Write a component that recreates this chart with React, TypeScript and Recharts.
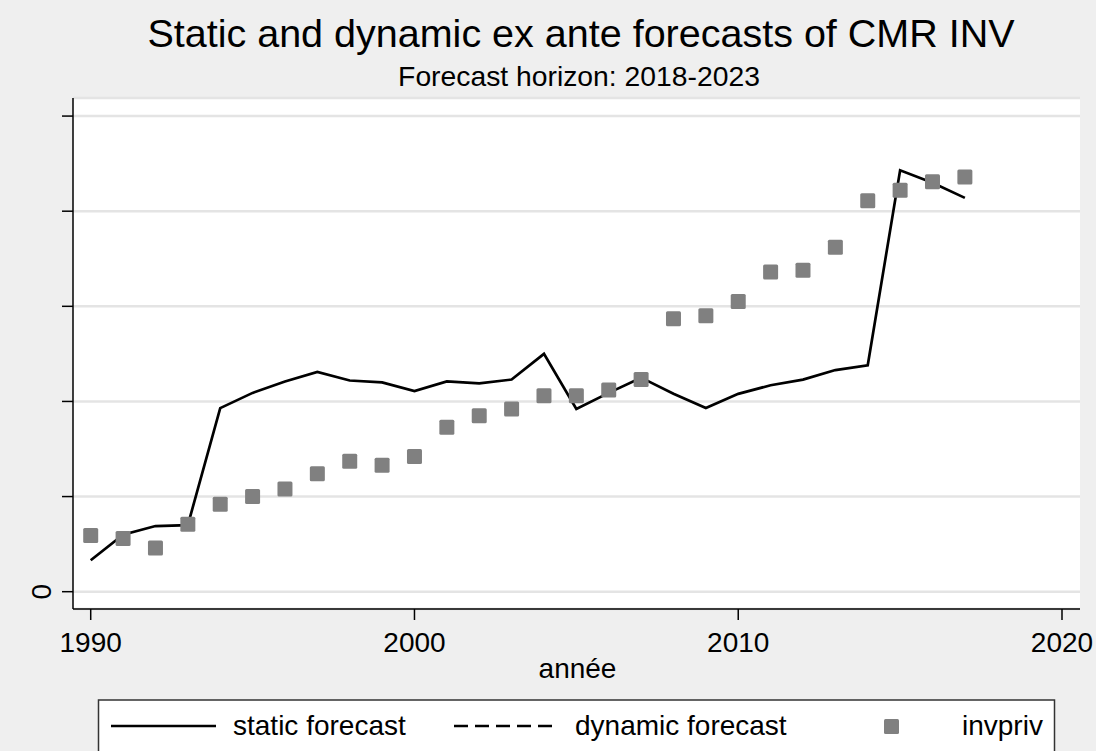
import { ComposedChart, Line, Scatter, XAxis, YAxis, CartesianGrid } from 'recharts';

const years = [
  1990, 1991, 1992, 1993, 1994, 1995, 1996, 1997, 1998, 1999,
  2000, 2001, 2002, 2003, 2004, 2005, 2006, 2007, 2008, 2009,
  2010, 2011, 2012, 2013, 2014, 2015, 2016, 2017
];

const invpriv = [
  0.59, 0.56, 0.46, 0.71, 0.92, 1.0, 1.08, 1.24, 1.37, 1.33,
  1.42, 1.73, 1.85, 1.92, 2.06, 2.06, 2.12, 2.23, 2.87, 2.9,
  3.05, 3.36, 3.38, 3.62, 4.11, 4.22, 4.31, 4.36
];

const staticForecast = [
  0.33, 0.6, 0.69, 0.7, 1.93, 2.09, 2.21, 2.31, 2.22, 2.2,
  2.11, 2.21, 2.19, 2.23, 2.5, 1.92, 2.09, 2.25, 2.08, 1.93,
  2.08, 2.17, 2.23, 2.33, 2.38, 4.43, 4.3, 4.14
];

const xTicks = [1990, 2000, 2010, 2020];
const yTicks = [0, 1, 2, 3, 4, 5];

const rows = years.map((y, i) => ({ year: y, invpriv: invpriv[i], static: staticForecast[i] }));

const FONT = '"Liberation Sans", Arial, Helvetica, sans-serif';

const YTick = ({ x, y, payload }) => {
  if (payload.value !== 0) return null;
  return (
    <text
      x={51}
      y={y}
      transform={`rotate(-90, 51, ${y})`}
      textAnchor="middle"
      fontSize={28}
      fontFamily={FONT}
      fill="#000"
    >
      0
    </text>
  );
};

const Square = (props) => {
  const { cx, cy } = props;
  if (cx == null || cy == null) return null;
  return <rect x={cx - 7.5} y={cy - 7.5} width={15} height={15} rx={1.5} fill="#808080" />;
};

export default function App() {
  return (
    <div
      style={{
        position: 'absolute',
        left: 0,
        top: 0,
        width: 1096,
        height: 751,
        background: '#efefef',
        overflow: 'hidden',
        fontFamily: FONT,
      }}
    >
      <ComposedChart
        width={1096}
        height={751}
        data={rows}
        margin={{ top: 98, right: 16, left: 0, bottom: 82 }}
      >
        <CartesianGrid vertical={false} stroke="#e4e4e4" strokeWidth={2.5} fill="#ffffff" />
        <XAxis
          dataKey="year"
          type="number"
          domain={[1989.453, 2020.556]}
          ticks={xTicks}
          allowDataOverflow
          height={60}
          tickSize={11}
          tickMargin={12}
          stroke="#000"
          strokeWidth={1.5}
          tick={{ fontSize: 28, fill: '#000', fontFamily: FONT }}
        />
        <YAxis
          type="number"
          domain={[-0.182, 5.19]}
          ticks={yTicks}
          allowDataOverflow
          width={73}
          tickSize={11}
          stroke="#000"
          strokeWidth={1.5}
          tick={<YTick />}
        />
        <Line
          dataKey="static"
          type="linear"
          stroke="#000"
          strokeWidth={2.7}
          dot={false}
          isAnimationActive={false}
        />
        <Scatter dataKey="invpriv" shape={<Square />} isAnimationActive={false} />
      </ComposedChart>

      <svg
        width={1096}
        height={751}
        style={{ position: 'absolute', left: 0, top: 0, pointerEvents: 'none' }}
        fontFamily={FONT}
      >
        <text x={581} y={47} textAnchor="middle" fontSize={39.5} fill="#000">
          Static and dynamic ex ante forecasts of CMR INV
        </text>
        <text x={579} y={86} textAnchor="middle" fontSize={28.3} fill="#000">
          Forecast horizon: 2018-2023
        </text>
        <text x={577.5} y={678} textAnchor="middle" fontSize={28} fill="#000">
          année
        </text>

        <rect x={98.5} y={700} width={956} height={70} fill="#fff" stroke="#333" strokeWidth={1.5} />
        <line x1={111} y1={726} x2={216} y2={726} stroke="#000" strokeWidth={2.5} />
        <text x={233} y={735} fontSize={28} fill="#000">static forecast</text>
        <line x1={454} y1={726} x2={553} y2={726} stroke="#000" strokeWidth={2.5} strokeDasharray="14 7" />
        <text x={575} y={735} fontSize={28} fill="#000">dynamic forecast</text>
        <rect x={884} y={719} width={15} height={15} rx={1.5} fill="#808080" />
        <text x={962} y={735} fontSize={28} fill="#000">invpriv</text>
      </svg>
    </div>
  );
}
